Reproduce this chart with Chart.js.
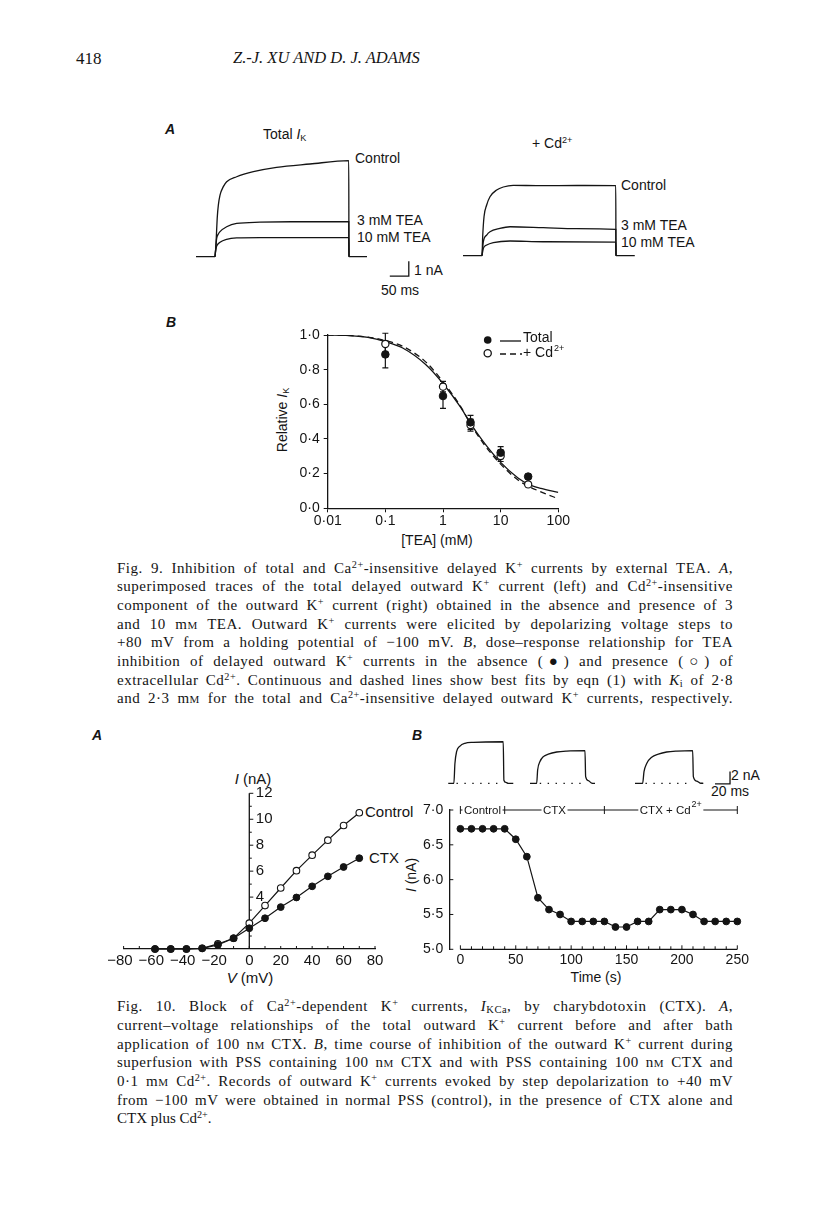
<!DOCTYPE html>
<html><head><meta charset="utf-8">
<script src="https://cdn.jsdelivr.net/npm/chart.js@4.4.1/dist/chart.umd.min.js"></script>
<style>
html,body{margin:0;padding:0;background:#fff;}
#page{position:relative;width:816px;height:1208px;overflow:hidden;background:#fff;color:#141414;}
canvas{position:absolute;}
.t{position:absolute;white-space:nowrap;line-height:1;font-family:"Liberation Sans",Arial,sans-serif;color:#141414;}
.lm{transform:translate(0,-50%);}
.cm{transform:translate(-50%,-50%);}
.rot{transform:translate(-50%,-50%) rotate(-90deg);}
.f14{font-size:14px;} .f15{font-size:15px;}
.sup{font-size:0.65em;vertical-align:0.55em;}
.sub{font-size:0.65em;vertical-align:-0.25em;}
.cap{position:absolute;left:117px;width:616px;font-family:"Liberation Serif","Times New Roman",serif;font-size:15px;color:#141414;}
.cap div{height:18.7px;line-height:18.7px;text-align:justify;text-align-last:justify;white-space:nowrap;}
.cap div.last{text-align-last:left;}
.cap sup{font-size:0.68em;vertical-align:0.45em;line-height:0;}
.cap sub{font-size:0.7em;vertical-align:-0.2em;line-height:0;}
.sc{font-variant:small-caps;}
.hdr{position:absolute;font-family:"Liberation Serif","Times New Roman",serif;font-size:17px;color:#141414;line-height:1;transform:translate(0,-50%);white-space:nowrap;}
</style></head>
<body><div id="page">

<div class="hdr" style="left:76px;top:58px;">418</div>
<div class="hdr" style="left:233px;top:58px;font-style:italic;font-size:16.5px;">Z.-J. XU AND D. J. ADAMS</div>

<!-- Fig 9A labels -->
<div class="t lm f14" style="left:165px;top:129px;font-style:italic;font-weight:bold;">A</div>
<div class="t lm f14" style="left:263px;top:135px;">Total <i>I</i><span class="sub">K</span></div>
<div class="t lm f14" style="left:355px;top:158px;">Control</div>
<div class="t lm f14" style="left:357px;top:220px;">3 mM TEA</div>
<div class="t lm f14" style="left:357px;top:237px;">10 mM TEA</div>
<div class="t lm f14" style="left:414px;top:270px;">1 nA</div>
<div class="t lm f14" style="left:381px;top:290px;">50 ms</div>
<div class="t lm f14" style="left:532px;top:143px;">+ Cd<span class="sup">2+</span></div>
<div class="t lm f14" style="left:621px;top:185px;">Control</div>
<div class="t lm f14" style="left:621px;top:225px;">3 mM TEA</div>
<div class="t lm f14" style="left:621px;top:242px;">10 mM TEA</div>

<!-- Fig 9B labels -->
<div class="t lm f14" style="left:166px;top:322px;font-style:italic;font-weight:bold;">B</div>
<div class="t rot f14" style="left:283px;top:420px;">Relative <i>I</i><span class="sub">K</span></div>
<div class="t cm f14" style="left:437px;top:540px;">[TEA] (mM)</div>

<!-- Fig 9 caption -->
<div class="cap" style="top:558.6px;">
<div>Fig. 9. Inhibition of total and Ca<sup>2+</sup>-insensitive delayed K<sup>+</sup> currents by external TEA. <i>A</i>,</div>
<div>superimposed traces of the total delayed outward K<sup>+</sup> current (left) and Cd<sup>2+</sup>-insensitive</div>
<div>component of the outward K<sup>+</sup> current (right) obtained in the absence and presence of 3</div>
<div>and 10 m<span class="sc">m</span> TEA. Outward K<sup>+</sup> currents were elicited by depolarizing voltage steps to</div>
<div>+80 mV from a holding potential of &minus;100 mV. <i>B</i>, dose&ndash;response relationship for TEA</div>
<div>inhibition of delayed outward K<sup>+</sup> currents in the absence (&#9679;) and presence (&#9675;) of</div>
<div>extracellular Cd<sup>2+</sup>. Continuous and dashed lines show best fits by eqn (1) with <i>K</i><sub>i</sub> of 2&middot;8</div>
<div>and 2&middot;3 m<span class="sc">m</span> for the total and Ca<sup>2+</sup>-insensitive delayed outward K<sup>+</sup> currents, respectively.</div>
</div>

<!-- Fig 10 labels -->
<div class="t lm f14" style="left:92px;top:735px;font-style:italic;font-weight:bold;">A</div>
<div class="t lm f14" style="left:412px;top:735px;font-style:italic;font-weight:bold;">B</div>
<div class="t cm f15" style="left:253px;top:778px;"><i>I</i> (nA)</div>
<div class="t lm f15" style="left:365px;top:811px;">Control</div>
<div class="t lm f15" style="left:369px;top:857px;">CTX</div>
<div class="t cm f15" style="left:250px;top:977px;"><i>V</i> (mV)</div>
<div class="t rot f14" style="left:411px;top:875px;"><i>I</i> (nA)</div>
<div class="t cm f14" style="left:596px;top:977px;">Time (s)</div>
<div class="t lm f14" style="left:731px;top:775px;">2 nA</div>
<div class="t lm f14" style="left:711px;top:791px;">20 ms</div>

<!-- Fig 10 caption -->
<div class="cap" style="top:997.3px;">
<div>Fig. 10. Block of Ca<sup>2+</sup>-dependent K<sup>+</sup> currents, <i>I</i><sub>KCa</sub>, by charybdotoxin (CTX). <i>A</i>,</div>
<div>current&ndash;voltage relationships of the total outward K<sup>+</sup> current before and after bath</div>
<div>application of 100 n<span class="sc">m</span> CTX. <i>B</i>, time course of inhibition of the outward K<sup>+</sup> current during</div>
<div>superfusion with PSS containing 100 n<span class="sc">m</span> CTX and with PSS containing 100 n<span class="sc">m</span> CTX and</div>
<div>0&middot;1 m<span class="sc">m</span> Cd<sup>2+</sup>. Records of outward K<sup>+</sup> currents evoked by step depolarization to +40 mV</div>
<div>from &minus;100 mV were obtained in normal PSS (control), in the presence of CTX alone and</div>
<div class="last">CTX plus Cd<sup>2+</sup>.</div>
</div>

</div>
<script>
// ================= DATA =================
// Fig 9A, total I_K traces (time in ms, current in nA)
const f9LCtrlT  = [0, 50, 52.6, 56.1, 58.8, 63.2, 71.9, 80.7, 107, 151, 212, 300, 402, 402.5, 450];
const f9LCtrlI  = [0, 0, 0.89, 2.67, 3.44, 4.11, 4.67, 5.0, 5.33, 5.67, 5.96, 6.18, 6.4, 0, 0];
const f9LTea3T  = [50, 52, 54.4, 58.8, 63.2, 80.7, 107, 168, 250, 402, 402.5];
const f9LTea3I  = [0, 0.6, 1.22, 1.51, 1.67, 2.0, 2.22, 2.3, 2.33, 2.33, 0];
const f9LTea10T = [50, 52, 54.4, 63.2, 80.7, 107, 168, 402, 402.5];
const f9LTea10I = [0, 0.45, 0.71, 0.96, 1.16, 1.25, 1.27, 1.27, 0];
// Fig 9A, Cd2+-insensitive traces
const f9RCtrlT  = [0, 50, 51.8, 55.3, 62.3, 71, 88.6, 106, 132, 200, 300, 402, 402.5, 452];
const f9RCtrlI  = [0, 0, 1.27, 2.6, 3.38, 3.93, 4.38, 4.58, 4.69, 4.67, 4.68, 4.67, 0, 0];
const f9RTea3T  = [50, 53.5, 62.3, 71, 97, 123.7, 211, 298, 402, 402.5];
const f9RTea3I  = [0, 0.93, 1.38, 1.6, 1.82, 1.93, 1.87, 1.8, 1.76, 0];
const f9RTea10T = [50, 53.5, 62.3, 79.8, 123.7, 211, 402, 402.5];
const f9RTea10I = [0, 0.49, 0.71, 0.87, 0.98, 0.93, 0.91, 0];
// Fig 9A scale bar (50 ms, 1 nA)
const f9BarT = [510, 560, 560];
const f9BarI = [-1.3, -1.3, -0.3];

// Fig 9B dose-response
const teaConc  = [0.1, 1, 3, 10, 30];
const totalRel = [0.888, 0.648, 0.496, 0.321, 0.183];
const totalSem = [0.078, 0.071, 0.04, 0.035, 0.015];
const cdRel    = [0.948, 0.702, 0.48, 0.302, 0.138];
const cdSem    = [0.062, 0.03, 0.035, 0.032, 0.015];
const fitConc  = [0.01, 0.02, 0.05, 0.1, 0.2, 0.5, 1, 2, 3, 5, 10, 20, 30, 50, 100];
const fitTotal = [1.0, 0.998, 0.986, 0.962, 0.925, 0.83, 0.72, 0.585, 0.49, 0.385, 0.265, 0.175, 0.14, 0.115, 0.092];
const fitCd    = [1.0, 0.998, 0.988, 0.968, 0.935, 0.845, 0.73, 0.59, 0.488, 0.375, 0.255, 0.163, 0.128, 0.095, 0.055];
const f9bXTicks = [0.01, 0.1, 1, 10, 100];
const f9bYTicks = [0, 0.2, 0.4, 0.6, 0.8, 1.0];

// Fig 10A current-voltage
const ivVolt    = [-60, -50, -40, -30, -20, -10, 0, 10, 20, 30, 40, 50, 60, 70];
const ivControl = [0, 0, 0, 0.05, 0.39, 0.83, 1.99, 3.35, 4.7, 6.04, 7.23, 8.39, 9.52, 10.5];
const ivCTX     = [0, 0, 0, 0.05, 0.31, 0.83, 1.6, 2.37, 3.23, 3.97, 4.83, 5.6, 6.32, 7.0];
const ivXTicks  = [-80, -60, -40, -20, 0, 20, 40, 60, 80];
const ivXMarks  = [-80, -70, -60, -50, -40, -30, -20, -10, 0, 10, 20, 30, 40, 50, 60, 70, 80];
const ivYTicks  = [4, 6, 8, 10, 12];
const ivYMarks  = [1, 2, 3, 4, 5, 6, 7, 8, 9, 10, 11, 12];

// Fig 10B time course
const tcTime    = [0, 10, 20, 30, 40, 50, 60, 70, 80, 90, 100, 110, 120, 130, 140, 150, 160, 170, 180, 190, 200, 210, 220, 230, 240, 250];
const tcCurrent = [6.73, 6.73, 6.73, 6.73, 6.73, 6.58, 6.33, 5.74, 5.57, 5.5, 5.4, 5.4, 5.4, 5.4, 5.32, 5.32, 5.4, 5.4, 5.57, 5.57, 5.57, 5.5, 5.4, 5.4, 5.4, 5.4];
const tcXTicks  = [0, 50, 100, 150, 200, 250];
const tcXMarks  = [0,10,20,30,40,50,60,70,80,90,100,110,120,130,140,150,160,170,180,190,200,210,220,230,240,250];
const tcYTicks  = [5.0, 5.5, 6.0, 6.5, 7.0];
const condBounds = [0, 40, 130, 250];
const condLabels = ['Control', 'CTX', 'CTX + Cd'];
const condSups   = ['', '', '2+'];

// Fig 10B current records (ms, nA)
const tr1T = [0, 7.5, 8.9, 11.1, 15.6, 22.2, 33.3, 73.3, 74.2, 76.9, 80, 86.7];
const tr1I = [0, 0, 3.2, 5.1, 6.0, 6.45, 6.6, 6.7, 0.5, 0.15, 0, 0];
const tr2T = [0, 8.9, 10.2, 13.3, 17.8, 24.4, 35.6, 48.9, 73.3, 74.2, 77.8, 82.2, 86.7];
const tr2I = [0, 0, 2.15, 3.5, 4.3, 4.7, 5.05, 5.2, 5.26, 1.07, 0.42, 0.05, 0];
const tr3T = [0, 10.2, 12, 15.6, 22.2, 31.1, 42.2, 55.6, 76.9, 77.8, 82.2, 86.7, 91.1];
const tr3I = [0, 0, 1.87, 3.2, 4.2, 4.7, 5.05, 5.2, 5.26, 1.07, 0.35, 0.05, 0];
const trZeroSpans = [[11, 72], [13, 72], [14, 75]];
const f10BarT = [366.7, 386.7, 386.7];
const f10BarI = [-0.1, -0.1, 1.9];

// ================= DRAWING =================
const INK = '#141414';
const FONT = '"Liberation Sans", Arial, Helvetica, sans-serif';
Chart.defaults.font.family = FONT;
Chart.defaults.color = INK;
Chart.defaults.animation = false;

// caption lines: spread spacing over letters as well as words
document.querySelectorAll('.cap div').forEach(d => {
  const span = document.createElement('span');
  while (d.firstChild) span.appendChild(d.firstChild);
  d.appendChild(span);
  if (d.classList.contains('last')) return;
  d.style.textAlignLast = 'left';
  d.style.textAlign = 'left';
  const w = span.getBoundingClientRect().width;
  d.style.textAlignLast = '';
  d.style.textAlign = '';
  const n = span.textContent.length;
  const extra = 616 - w;
  if (extra > 0) {
    const ls = Math.min(0.5, (extra * 0.6) / n);
    d.style.letterSpacing = ls.toFixed(3) + 'px';
  }
});

function place(id, left, top, w, h) {
  const c = document.createElement('canvas');
  c.id = id; c.width = w; c.height = h;
  c.style.left = left + 'px'; c.style.top = top + 'px';
  c.style.width = w + 'px'; c.style.height = h + 'px';
  document.getElementById('page').appendChild(c);
  return c.getContext('2d');
}
function pts(t, v, off) { off = off || 0; return t.map((x, i) => ({x: x + off, y: v[i]})); }
function fixedFit(size, axis) {
  return function (s) {
    if (axis === 'x') s.height = size; else s.width = size;
    s.paddingLeft = 0; s.paddingRight = 0; s.paddingTop = 0; s.paddingBottom = 0;
  };
}
function setTicks(arr) { return function (s) { s.ticks = arr.map(v => ({value: v})); }; }
const dot = v => String(v).replace('.', '\u00b7');
const baseOpts = (padding, scales) => ({
  responsive: false, animation: false, events: [], devicePixelRatio: 1,
  layout: {padding},
  plugins: {legend: {display: false}, tooltip: {enabled: false}},
  scales
});
function traceDs(data, extra) {
  return Object.assign({data, borderColor: INK, borderWidth: 1.3, pointRadius: 0, fill: false,
    cubicInterpolationMode: 'monotone', clip: false}, extra || {});
}
function barDs(data) { return {data, borderColor: INK, borderWidth: 1.3, pointRadius: 0, fill: false, tension: 0, clip: false}; }
function hidden(xmin, xmax, ymin, ymax) {
  return {x: {type: 'linear', display: false, min: xmin, max: xmax},
          y: {type: 'linear', display: false, min: ymin, max: ymax}};
}

// ---- Fig 9A left ----
new Chart(place('f9aL', 186, 150, 244, 130), {
  type: 'line',
  data: {datasets: [
    traceDs(pts(f9LCtrlT, f9LCtrlI)),
    traceDs(pts(f9LTea3T, f9LTea3I)),
    traceDs(pts(f9LTea10T, f9LTea10I)),
    barDs(pts(f9BarT, f9BarI))
  ]},
  options: baseOpts(0, hidden(-26.32, 615.79, -1.553, 7.113))
});
// ---- Fig 9A right ----
new Chart(place('f9aR', 453, 150, 192, 130), {
  type: 'line',
  data: {datasets: [
    traceDs(pts(f9RCtrlT, f9RCtrlI)),
    traceDs(pts(f9RTea3T, f9RTea3I)),
    traceDs(pts(f9RTea10T, f9RTea10I))
  ]},
  options: baseOpts(0, hidden(-26.32, 478.9, -1.62, 7.047))
});

// ---- Fig 9B ----
const err9 = {
  id: 'err9',
  beforeDatasetsDraw(chart) {
    const {ctx, scales: {x, y}} = chart;
    ctx.save(); ctx.strokeStyle = INK; ctx.lineWidth = 1.2;
    [[totalRel, totalSem], [cdRel, cdSem]].forEach(([m, s]) => {
      teaConc.forEach((c, i) => {
        const px = x.getPixelForValue(c);
        const y1 = y.getPixelForValue(m[i] - s[i]), y2 = y.getPixelForValue(m[i] + s[i]);
        ctx.beginPath();
        ctx.moveTo(px, y1); ctx.lineTo(px, y2);
        ctx.moveTo(px - 3, y1); ctx.lineTo(px + 3, y1);
        ctx.moveTo(px - 3, y2); ctx.lineTo(px + 3, y2);
        ctx.stroke();
      });
    });
    ctx.restore();
  }
};
const legend9 = {
  id: 'legend9',
  afterDraw(chart) {
    const ctx = chart.ctx;
    ctx.save();
    ctx.strokeStyle = INK; ctx.fillStyle = INK; ctx.lineWidth = 1.3;
    ctx.beginPath(); ctx.arc(217.7, 15, 3.8, 0, Math.PI * 2); ctx.fill();
    ctx.beginPath(); ctx.moveTo(230, 16); ctx.lineTo(251, 16); ctx.stroke();
    ctx.beginPath(); ctx.arc(217.7, 28.3, 3.6, 0, Math.PI * 2); ctx.fillStyle = '#fff'; ctx.fill(); ctx.stroke();
    ctx.setLineDash([6, 4]);
    ctx.beginPath(); ctx.moveTo(230, 29); ctx.lineTo(252, 29); ctx.stroke();
    ctx.setLineDash([]);
    ctx.fillStyle = INK;
    ctx.font = '14px ' + FONT; ctx.textBaseline = 'middle'; ctx.textAlign = 'left';
    ctx.fillText('Total', 253, 13.5);
    ctx.fillText('+ Cd', 253, 28.5);
    const w = ctx.measureText('+ Cd').width;
    ctx.font = '9px ' + FONT;
    ctx.fillText('2+', 253 + w + 1, 24);
    ctx.restore();
  }
};
const axisCommon = {
  grid: {display: true, drawOnChartArea: false, drawTicks: true, tickLength: 4, color: INK, lineWidth: 1},
  border: {display: true, color: INK, width: 1.3}
};
new Chart(place('f9b', 270, 325, 310, 215), {
  type: 'line',
  data: {datasets: [
    {data: pts(teaConc, totalRel), showLine: false, pointRadius: 3.8, pointBackgroundColor: INK, pointBorderColor: INK, pointBorderWidth: 1, clip: false},
    {data: pts(teaConc, cdRel), showLine: false, pointRadius: 3.6, pointBackgroundColor: '#fff', pointBorderColor: INK, pointBorderWidth: 1.2, clip: false},
    {data: pts(fitConc, fitTotal), borderColor: INK, borderWidth: 1.3, pointRadius: 0, cubicInterpolationMode: 'monotone', fill: false},
    {data: pts(fitConc, fitCd), borderColor: INK, borderWidth: 1.3, borderDash: [6, 4], pointRadius: 0, cubicInterpolationMode: 'monotone', fill: false}
  ]},
  options: baseOpts({top: 10, right: 21.7, left: 0, bottom: 0}, {
    x: Object.assign({type: 'logarithmic', min: 0.01, max: 100, afterFit: fixedFit(31.7, 'x'),
      afterBuildTicks: setTicks(f9bXTicks),
      ticks: {callback: v => dot(v), font: {size: 14}, padding: 0, maxRotation: 0, autoSkip: false}}, axisCommon),
    y: Object.assign({type: 'linear', min: 0, max: 1, afterFit: fixedFit(57.7, 'y'),
      afterBuildTicks: setTicks(f9bYTicks),
      ticks: {callback: v => dot(v.toFixed(1)), font: {size: 14}, padding: 4, autoSkip: false}}, axisCommon)
  }),
  plugins: [err9, legend9]
});

// ---- Fig 10A ----
const ivAxes = {
  id: 'ivAxes',
  beforeDatasetsDraw(chart) {
    const {ctx, scales: {x, y}} = chart;
    const x0 = x.getPixelForValue(0), yb = y.getPixelForValue(0);
    ctx.save(); ctx.strokeStyle = INK; ctx.fillStyle = INK; ctx.lineWidth = 1.3;
    ctx.beginPath(); ctx.moveTo(x0, yb); ctx.lineTo(x0, y.getPixelForValue(12)); ctx.stroke();
    ctx.lineWidth = 1;
    ivYMarks.forEach(v => { const py = y.getPixelForValue(v); ctx.beginPath(); ctx.moveTo(x0, py); ctx.lineTo(x0 + (v % 2 === 0 ? 4 : 2.5), py); ctx.stroke(); });
    ivXMarks.forEach(v => { const px = x.getPixelForValue(v); ctx.beginPath(); ctx.moveTo(px, yb); ctx.lineTo(px, yb - 3); ctx.stroke(); });
    ctx.font = '15px ' + FONT; ctx.textAlign = 'left'; ctx.textBaseline = 'middle';
    ivYTicks.forEach(v => ctx.fillText(String(v), x0 + 6.5, y.getPixelForValue(v)));
    ctx.restore();
  }
};
new Chart(place('f10a', 100, 785, 325, 190), {
  type: 'line',
  data: {datasets: [
    {data: pts(ivVolt, ivCTX), borderColor: INK, borderWidth: 1.2, tension: 0, pointRadius: 3.4, pointBackgroundColor: INK, pointBorderColor: INK, pointBorderWidth: 1, clip: false},
    {data: pts(ivVolt, ivControl), borderColor: INK, borderWidth: 1.2, tension: 0, pointRadius: 3.3, pointBackgroundColor: '#fff', pointBorderColor: INK, pointBorderWidth: 1.1, clip: false}
  ]},
  options: baseOpts({left: 23.6, top: 8.3, right: 50, bottom: 0}, {
    x: {type: 'linear', min: -80, max: 80, afterFit: fixedFit(26, 'x'), afterBuildTicks: setTicks(ivXTicks),
      ticks: {callback: v => v < 0 ? '\u2212' + (-v) + '\u2002' : String(v), font: {size: 15}, padding: 3, maxRotation: 0, autoSkip: false},
      grid: {display: false, drawTicks: false}, border: {display: true, color: INK, width: 1.3}},
    y: {type: 'linear', display: false, min: 0, max: 12}
  }),
  plugins: [ivAxes]
});

// ---- Fig 10B time course ----
const tcAxes = {
  id: 'tcAxes',
  beforeDatasetsDraw(chart) {
    const {ctx, scales: {x, y}} = chart;
    const yb = y.getPixelForValue(y.min), xl = x.getPixelForValue(x.min);
    ctx.save(); ctx.strokeStyle = INK; ctx.fillStyle = INK; ctx.lineWidth = 1.3;
    ctx.beginPath(); ctx.moveTo(x.getPixelForValue(tcXMarks[0]), yb); ctx.lineTo(x.getPixelForValue(tcXMarks[tcXMarks.length - 1]), yb); ctx.stroke();
    ctx.lineWidth = 1;
    tcXMarks.forEach(v => { const px = x.getPixelForValue(v); ctx.beginPath(); ctx.moveTo(px, yb); ctx.lineTo(px, yb - (v % 50 === 0 ? 4 : 3)); ctx.stroke(); });
    tcYTicks.forEach(v => { const py = y.getPixelForValue(v); ctx.beginPath(); ctx.moveTo(xl, py); ctx.lineTo(xl + 4, py); ctx.stroke(); });
    const yy = y.getPixelForValue(y.max);
    condBounds.forEach(b => { const px = x.getPixelForValue(b); ctx.beginPath(); ctx.moveTo(px, yy - 4); ctx.lineTo(px, yy + 4); ctx.stroke(); });
    ctx.textBaseline = 'middle'; ctx.textAlign = 'left';
    condLabels.forEach((lab, i) => {
      const a = x.getPixelForValue(condBounds[i]), b = x.getPixelForValue(condBounds[i + 1]);
      const mid = (a + b) / 2;
      ctx.font = '11.5px ' + FONT;
      const w1 = ctx.measureText(lab).width;
      ctx.font = '9px ' + FONT;
      const w2 = condSups[i] ? ctx.measureText(condSups[i]).width + 1 : 0;
      const w = w1 + w2, s = mid - w / 2;
      ctx.beginPath(); ctx.moveTo(a, yy); ctx.lineTo(s - 1.5, yy); ctx.moveTo(s + w + 1.5, yy); ctx.lineTo(b, yy); ctx.stroke();
      ctx.font = '11.5px ' + FONT; ctx.fillText(lab, s, yy + 0.5);
      if (condSups[i]) { ctx.font = '9px ' + FONT; ctx.fillText(condSups[i], s + w1 + 1, yy - 5); }
    });
    ctx.restore();
  }
};
new Chart(place('f10b', 400, 795, 360, 180), {
  type: 'line',
  data: {datasets: [
    {data: pts(tcTime, tcCurrent), borderColor: INK, borderWidth: 1.2, tension: 0, pointRadius: 3.4, pointBackgroundColor: INK, pointBorderColor: INK, pointBorderWidth: 1, clip: false}
  ]},
  options: baseOpts({top: 15, right: 22.7, left: 0, bottom: 0}, {
    x: {type: 'linear', min: -10, max: 250, afterFit: fixedFit(25.7, 'x'), afterBuildTicks: setTicks(tcXTicks),
      ticks: {font: {size: 14}, padding: 2, maxRotation: 0, autoSkip: false},
      grid: {display: false, drawTicks: false}, border: {display: false}},
    y: {type: 'linear', min: 5, max: 7, afterFit: fixedFit(49.3, 'y'), afterBuildTicks: setTicks(tcYTicks),
      ticks: {callback: v => dot(v.toFixed(1)), font: {size: 14}, padding: 6, autoSkip: false},
      grid: {display: false, drawTicks: false}, border: {display: true, color: INK, width: 1.3}}
  }),
  plugins: [tcAxes]
});

// ---- Fig 10B current records ----
const trOffsets = [11, 120, 260];
const trSets = [[tr1T, tr1I], [tr2T, tr2I], [tr3T, tr3I]];
const trDatasets = [];
trSets.forEach(([t, v], k) => trDatasets.push(traceDs(pts(t, v, trOffsets[k]), {borderWidth: 1.3})));
trZeroSpans.forEach(([a, b], k) => trDatasets.push({data: [{x: a + trOffsets[k], y: 0}, {x: b + trOffsets[k], y: 0}],
  borderColor: INK, borderWidth: 1.3, borderDash: [1.4, 6.5], pointRadius: 0, tension: 0, fill: false, clip: false}));
trDatasets.push(barDs(pts(f10BarT, f10BarI)));
new Chart(place('f10tr', 440, 735, 330, 65), {
  type: 'line',
  data: {datasets: trDatasets},
  options: baseOpts(0, hidden(0, 440, -2.69, 7.79))
});
</script>
</body></html>
